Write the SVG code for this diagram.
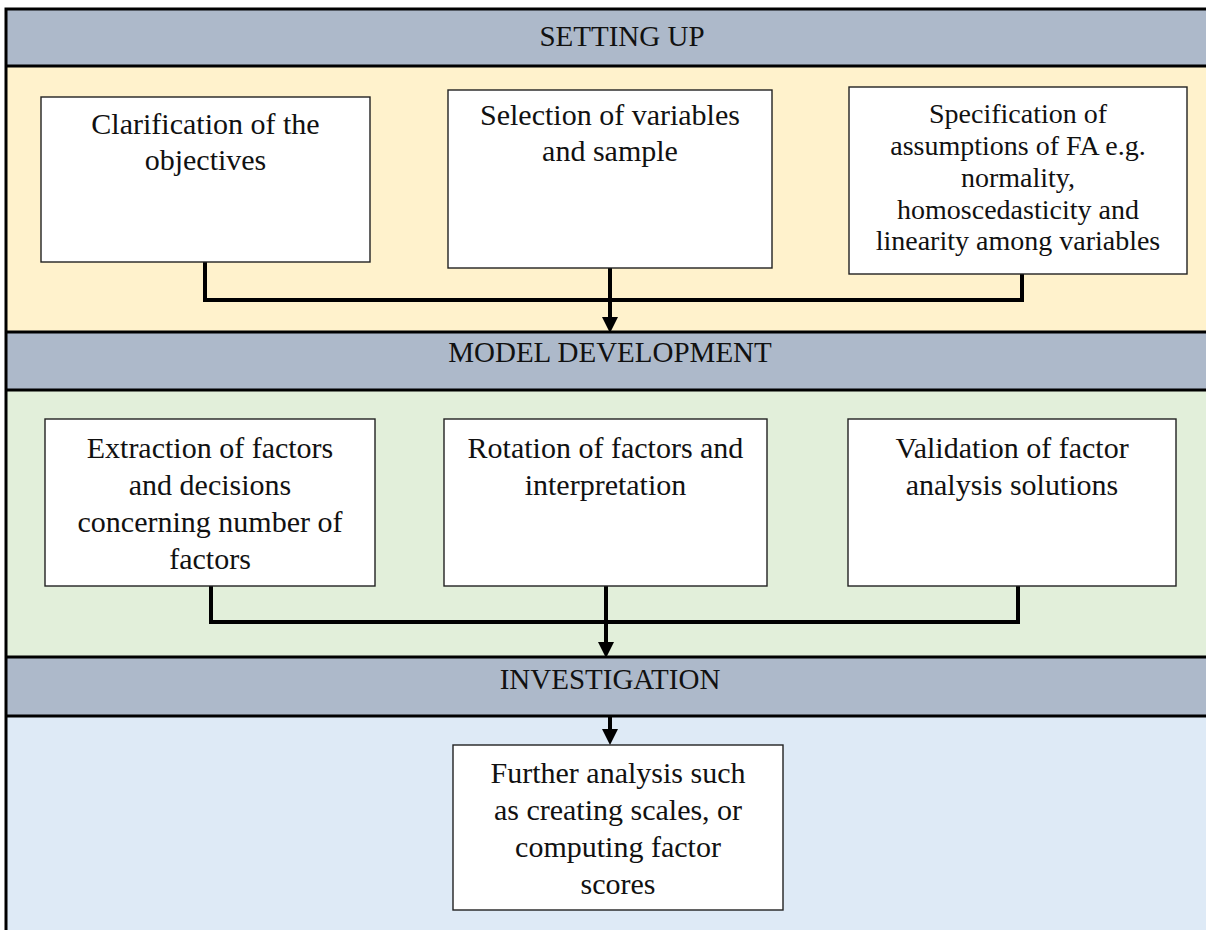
<svg xmlns="http://www.w3.org/2000/svg" width="1206" height="930" viewBox="0 0 1206 930">
  <style>
    .band-head { fill: #ADB9CA; }
    .rule { stroke: #000; stroke-width: 3; fill: none; }
    .box { fill: #FFFFFF; stroke: #222; stroke-width: 1.4; }
    .head { font-family: "Liberation Serif", "Times New Roman", serif; font-size: 29px; fill: #111; text-anchor: middle; }
    .label { font-family: "Liberation Serif", "Times New Roman", serif; font-size: 30px; fill: #111; text-anchor: middle; }
    .label-sm { font-family: "Liberation Serif", "Times New Roman", serif; font-size: 28px; fill: #111; text-anchor: middle; }
    .conn { stroke: #000; stroke-width: 4; fill: none; }
  </style>
  <defs>
    <marker id="arrow" markerUnits="userSpaceOnUse" markerWidth="16" markerHeight="16" refX="0" refY="8" orient="auto">
      <path d="M0,0 L16,8 L0,16 z" fill="#000"/>
    </marker>
  </defs>

  <rect width="1206" height="930" fill="#FFFFFF"/>

  <!-- stage bands -->
  <g id="bands">
    <rect class="band-head" x="6" y="9" width="1210" height="57"/>
    <rect x="6" y="66" width="1210" height="266" fill="#FFF2CC"/>
    <rect class="band-head" x="6" y="332" width="1210" height="58"/>
    <rect x="6" y="390" width="1210" height="267" fill="#E2EFDA"/>
    <rect class="band-head" x="6" y="657" width="1210" height="59"/>
    <rect x="6" y="716" width="1210" height="220" fill="#DEEAF6"/>
    <path class="rule" d="M6,940 V9 H1210 M6,66 H1210 M6,332 H1210 M6,390 H1210 M6,657 H1210 M6,716 H1210"/>
    <text class="head" x="622" y="46">SETTING UP</text>
    <text class="head" x="610" y="362">MODEL DEVELOPMENT</text>
    <text class="head" x="610" y="689">INVESTIGATION</text>
  </g>

  <!-- connectors -->
  <g id="connectors">
    <path class="conn" d="M205,262 V300 H1022 V274"/>
    <line class="conn" x1="610" y1="268" x2="610" y2="317" marker-end="url(#arrow)"/>
    <path class="conn" d="M211,586 V622 H1018 V586"/>
    <line class="conn" x1="606" y1="586" x2="606" y2="642" marker-end="url(#arrow)"/>
    <line class="conn" x1="610" y1="716" x2="610" y2="729" marker-end="url(#arrow)"/>
  </g>

  <!-- setting up -->
  <g id="clarification">
    <rect class="box" x="41" y="97" width="329" height="165"/>
    <text class="label" x="205.5" y="134">Clarification of the</text>
    <text class="label" x="205.5" y="170">objectives</text>
  </g>
  <g id="selection">
    <rect class="box" x="448" y="90" width="324" height="178"/>
    <text class="label" x="610" y="125">Selection of variables</text>
    <text class="label" x="610" y="161">and sample</text>
  </g>
  <g id="assumptions">
    <rect class="box" x="849" y="87" width="338" height="187"/>
    <text class="label-sm" x="1018" y="123">Specification of</text>
    <text class="label-sm" x="1018" y="155">assumptions of FA e.g.</text>
    <text class="label-sm" x="1018" y="187">normality,</text>
    <text class="label-sm" x="1018" y="219">homoscedasticity and</text>
    <text class="label-sm" x="1018" y="250">linearity among variables</text>
  </g>

  <!-- model development -->
  <g id="extraction">
    <rect class="box" x="45" y="419" width="330" height="167"/>
    <text class="label" x="210" y="458">Extraction of factors</text>
    <text class="label" x="210" y="495">and decisions</text>
    <text class="label" x="210" y="532">concerning number of</text>
    <text class="label" x="210" y="569">factors</text>
  </g>
  <g id="rotation">
    <rect class="box" x="444" y="419" width="323" height="167"/>
    <text class="label" x="605.5" y="458">Rotation of factors and</text>
    <text class="label" x="605.5" y="495">interpretation</text>
  </g>
  <g id="validation">
    <rect class="box" x="848" y="419" width="328" height="167"/>
    <text class="label" x="1012" y="458">Validation of factor</text>
    <text class="label" x="1012" y="495">analysis solutions</text>
  </g>

  <!-- investigation -->
  <g id="further-analysis">
    <rect class="box" x="453" y="745" width="330" height="165"/>
    <text class="label" x="618" y="783">Further analysis such</text>
    <text class="label" x="618" y="820">as creating scales, or</text>
    <text class="label" x="618" y="857">computing factor</text>
    <text class="label" x="618" y="894">scores</text>
  </g>
</svg>
